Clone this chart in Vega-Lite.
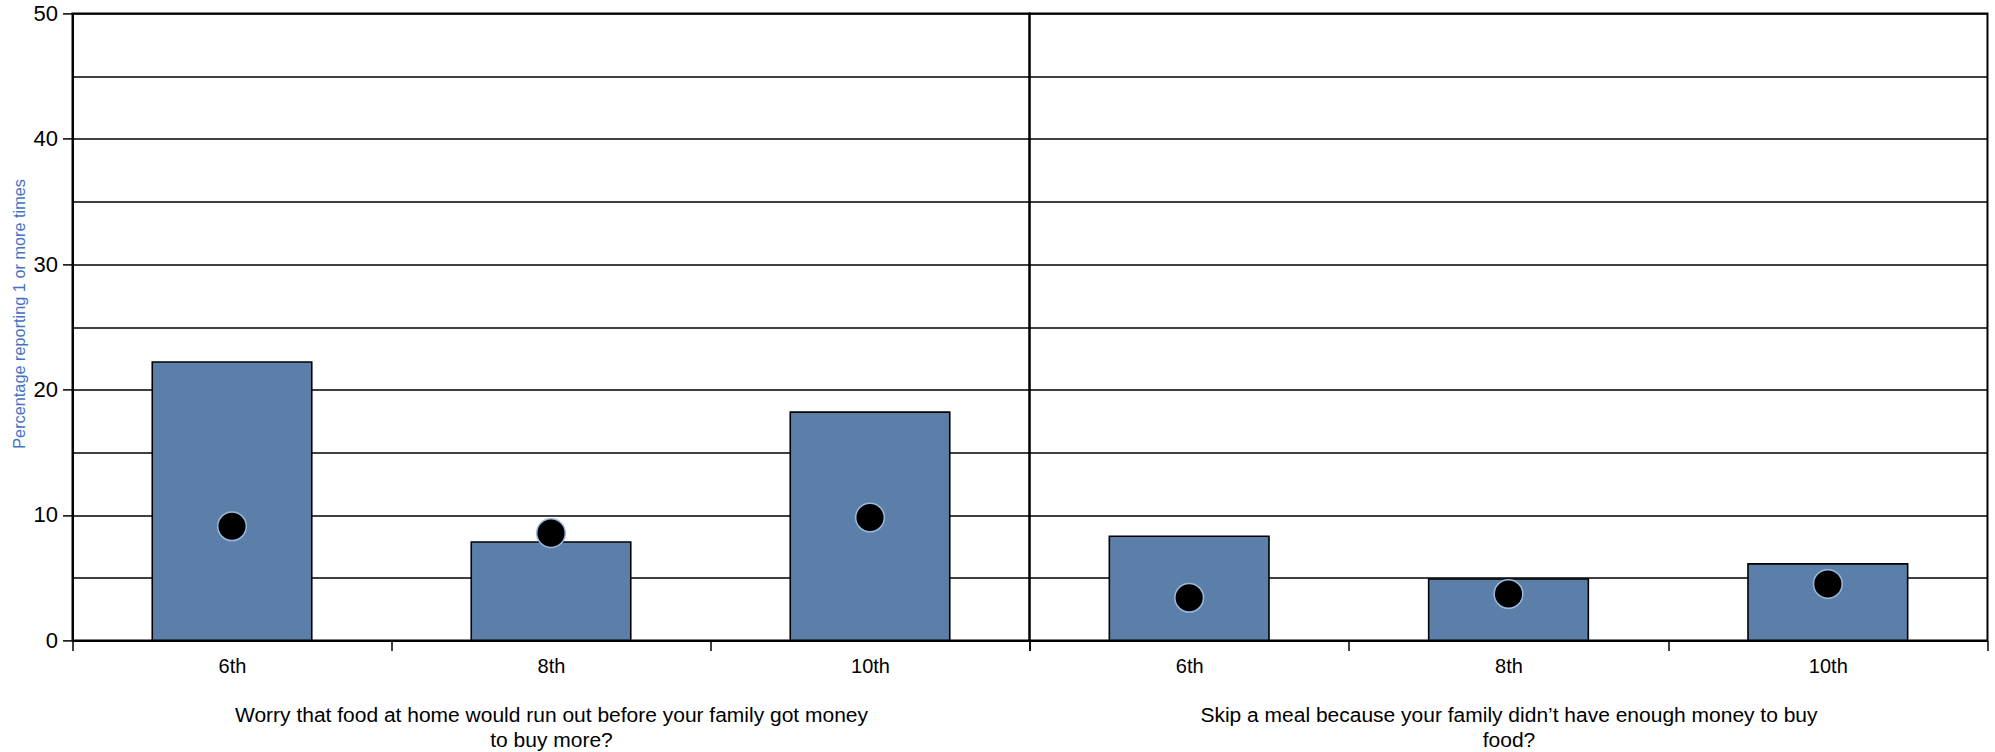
{
  "$schema": "https://vega.github.io/schema/vega-lite/v6.json",
  "padding": {"left": 9.5, "top": 1.4, "right": 6, "bottom": 5},
  "background": "white",
  "bounds": "flush",
  "spacing": 0,
  "data": {
    "values": [
      {"question": "worry", "grade": "6th", "value": 22.2, "comparison": 9.1},
      {"question": "worry", "grade": "8th", "value": 7.85, "comparison": 8.55},
      {"question": "worry", "grade": "10th", "value": 18.2, "comparison": 9.8},
      {"question": "skip", "grade": "6th", "value": 8.3, "comparison": 3.4},
      {"question": "skip", "grade": "8th", "value": 4.9, "comparison": 3.7},
      {"question": "skip", "grade": "10th", "value": 6.1, "comparison": 4.5}
    ]
  },
  "config": {
    "view": {"stroke": "black", "strokeWidth": 2},
    "axis": {"labelColor": "black", "titleColor": "black"}
  },
  "hconcat": [
    {
      "width": 957,
      "height": 627,
      "transform": [{"filter": "datum.question === 'worry'"}],
      "encoding": {
        "x": {
          "field": "grade", "type": "nominal", "sort": ["6th", "8th", "10th"],
          "scale": {"paddingInner": 0, "paddingOuter": 0},
          "axis": {
            "title": ["Worry that food at home would run out before your family got money", "to buy more?"],
            "titleFont": "Liberation Sans", "titleFontSize": 21, "titleFontWeight": "normal",
            "titleLineHeight": 25, "titlePadding": 28,
            "labelFont": "Liberation Sans", "labelFontSize": 20, "labelAngle": 0, "labelPadding": 6,
            "tickBand": "extent", "tickSize": 10, "tickColor": "black", "tickWidth": 1.5,
            "domainColor": "black", "domainWidth": 2, "grid": false
          }
        }
      },
      "layer": [
        {
          "mark": {"type": "bar", "color": "#5B7FA8", "stroke": "black", "strokeWidth": 1.6, "width": {"band": 0.5}},
          "encoding": {
            "y": {
              "field": "value", "type": "quantitative",
              "scale": {"domain": [0, 50], "nice": false},
              "axis": {
                "values": [0, 5, 10, 15, 20, 25, 30, 35, 40, 45, 50],
                "labelExpr": "datum.value % 10 === 0 ? datum.label : ''",
                "tickOpacity": {"condition": {"test": "datum.value % 10 === 0", "value": 1}, "value": 0},
                "tickSize": 10, "tickColor": "black", "tickWidth": 1.5,
                "labelFont": "Liberation Sans", "labelFontSize": 22, "labelPadding": 5,
                "grid": true, "gridColor": "black", "gridWidth": 1.5,
                "domainColor": "black", "domainWidth": 2,
                "title": "Percentage reporting 1 or more times",
                "titleFont": "Liberation Sans", "titleFontSize": 16.3, "titleFontWeight": "normal",
                "titleColor": "#4472C4", "titlePadding": 6, "titleY": 300
              }
            }
          }
        },
        {
          "mark": {"type": "point", "filled": true, "shape": "circle", "size": 820, "fill": "black", "stroke": "#9BB9DD", "strokeWidth": 1.5, "opacity": 1},
          "encoding": {
            "y": {"field": "comparison", "type": "quantitative"}
          }
        }
      ]
    },
    {
      "width": 958,
      "height": 627,
      "transform": [{"filter": "datum.question === 'skip'"}],
      "encoding": {
        "x": {
          "field": "grade", "type": "nominal", "sort": ["6th", "8th", "10th"],
          "scale": {"paddingInner": 0, "paddingOuter": 0},
          "axis": {
            "title": ["Skip a meal because your family didn’t have enough money to buy", "food?"],
            "titleFont": "Liberation Sans", "titleFontSize": 21, "titleFontWeight": "normal",
            "titleLineHeight": 25, "titlePadding": 28,
            "labelFont": "Liberation Sans", "labelFontSize": 20, "labelAngle": 0, "labelPadding": 6,
            "tickBand": "extent", "tickSize": 10, "tickColor": "black", "tickWidth": 1.5,
            "domainColor": "black", "domainWidth": 2, "grid": false
          }
        }
      },
      "layer": [
        {
          "mark": {"type": "bar", "color": "#5B7FA8", "stroke": "black", "strokeWidth": 1.6, "width": {"band": 0.5}},
          "encoding": {
            "y": {
              "field": "value", "type": "quantitative",
              "scale": {"domain": [0, 50], "nice": false},
              "axis": {
                "values": [0, 5, 10, 15, 20, 25, 30, 35, 40, 45, 50],
                "labels": false, "ticks": false, "domain": false, "title": null,
                "grid": true, "gridColor": "black", "gridWidth": 1.5
              }
            }
          }
        },
        {
          "mark": {"type": "point", "filled": true, "shape": "circle", "size": 820, "fill": "black", "stroke": "#9BB9DD", "strokeWidth": 1.5, "opacity": 1},
          "encoding": {
            "y": {"field": "comparison", "type": "quantitative"}
          }
        }
      ]
    }
  ]
}
